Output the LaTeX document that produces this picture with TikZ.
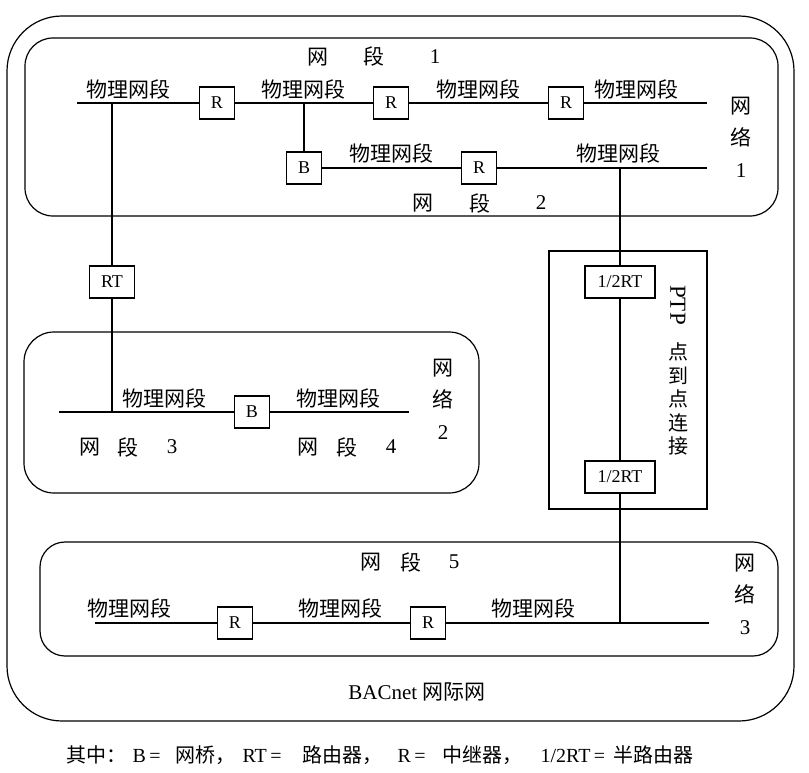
\documentclass[tikz,border=0pt]{standalone}
\usepackage{fontspec}
\setmainfont{Liberation Serif}
\newfontfamily\zh{Noto Sans CJK SC}
\begin{document}
\begin{tikzpicture}[x=1pt,y=-1pt,line width=1.2pt,
  font=\fontsize{21}{25}\selectfont,
  dev/.style={draw,fill=white,inner sep=0pt,minimum height=32pt,minimum width=35pt,font=\fontsize{18}{22}\selectfont},
  lbl/.style={inner sep=0pt},
  lg/.style={inner sep=0pt,anchor=base west,font=\fontsize{20}{24}\selectfont},
  vlbl/.style={inner sep=0pt,align=center,font=\fontsize{21}{32}\selectfont}]
\useasboundingbox (0,0) rectangle (809,773);
% enclosures
\draw[rounded corners=55pt] (7,16) rectangle (794,721);
\draw[rounded corners=28pt] (25,38) rectangle (778,216);
\draw[rounded corners=30pt] (24,332) rectangle (479,493);
\draw[rounded corners=25pt] (40,542) rectangle (778,656);
\draw (549,251) rectangle (707,509);
% coordinates
\coordinate (a1s) at (77,103);
\coordinate (a1e) at (707,103);
\coordinate (t1) at (112,103);
\coordinate (t2) at (304,103);
\coordinate (a2e) at (707,168);
\coordinate (t3) at (620,168);
\coordinate (a3s) at (59,412);
\coordinate (a3e) at (409,412);
\coordinate (t4) at (112,412);
\coordinate (a4s) at (95,623);
\coordinate (a4e) at (709,623);
\coordinate (t5) at (620,623);
% devices
\node[dev] (R1) at (217,103) {R};
\node[dev] (R2) at (391,103) {R};
\node[dev] (R3) at (566,103) {R};
\node[dev] (B1) at (304,168) {B};
\node[dev] (R4) at (479,168) {R};
\node[dev,minimum width=45pt] (RT) at (112,282) {RT};
\node[dev,minimum width=70pt] (H1) at (620,282) {1/2RT};
\node[dev,minimum width=70pt] (H2) at (620,477) {1/2RT};
\node[dev] (B2) at (252,412) {B};
\node[dev] (R5) at (235,623) {R};
\node[dev] (R6) at (428,623) {R};
% connectors
\draw (a1s) -- (R1) -- (R2) -- (R3) -- (a1e);
\draw (t2) -- (B1) -- (R4) -- (a2e);
\draw (t1) -- (RT) -- (t4);
\draw (a3s) -- (B2) -- (a3e);
\draw (t3) -- (H1) -- (H2) -- (t5);
\draw (a4s) -- (R5) -- (R6) -- (a4e);
% physical segment labels
\node[lbl] (p1) at (128,89) {\zh 物理网段};
\node[lbl] (p2) at (303,89) {\zh 物理网段};
\node[lbl] (p3) at (478,89) {\zh 物理网段};
\node[lbl] (p4) at (636,89) {\zh 物理网段};
\node[lbl] (p5) at (391,153) {\zh 物理网段};
\node[lbl] (p6) at (618,153) {\zh 物理网段};
\node[lbl] (p7) at (164,398) {\zh 物理网段};
\node[lbl] (p8) at (338,398) {\zh 物理网段};
\node[lbl] (p9) at (129,608) {\zh 物理网段};
\node[lbl] (p10) at (340,608) {\zh 物理网段};
\node[lbl] (p11) at (533,608) {\zh 物理网段};
% segment labels
\node[lbl] (s1a) at (318,57) {\zh 网};
\node[lbl] (s1b) at (374,57) {\zh 段};
\node[lbl] (s1c) at (435,57) {1};
\node[lbl] (s2a) at (423,203) {\zh 网};
\node[lbl] (s2b) at (480,203) {\zh 段};
\node[lbl] (s2c) at (541,203) {2};
\node[lbl] (s3a) at (90,447) {\zh 网};
\node[lbl] (s3b) at (128,447) {\zh 段};
\node[lbl] (s3c) at (172,447) {3};
\node[lbl] (s4a) at (308,447) {\zh 网};
\node[lbl] (s4b) at (347,447) {\zh 段};
\node[lbl] (s4c) at (391,447) {4};
\node[lbl] (s5a) at (371,562) {\zh 网};
\node[lbl] (s5b) at (411,562) {\zh 段};
\node[lbl] (s5c) at (454,562) {5};
% network labels
\node[vlbl] (n1) at (741,137) {{\zh 网}\\{\zh 络}\\1};
\node[vlbl] (n2) at (443,399) {{\zh 网}\\{\zh 络}\\2};
\node[vlbl] (n3) at (745,594) {{\zh 网}\\{\zh 络}\\3};
% PTP
\node[lbl,rotate=-90,font=\fontsize{23}{26}\selectfont] (ptp) at (678,305) {PTP};
\node[lbl,align=center,font=\fontsize{20}{23.5}\selectfont] (ptpzh) at (678,399) {{\zh 点}\\{\zh 到}\\{\zh 点}\\{\zh 连}\\{\zh 接}};
% titles
\node[lbl] (bac) at (417,692) {BACnet {\zh 网际网}};
% legend
\node[lg] (lg1) at (66,762) {\zh 其中：};
\node[lg] (lg2) at (132,762) {B\,=};
\node[lg] (lg3) at (175,762) {\zh 网桥，};
\node[lg] (lg4) at (242,762) {RT\,=};
\node[lg] (lg5) at (302,762) {\zh 路由器，};
\node[lg] (lg6) at (397,762) {R\,=};
\node[lg] (lg7) at (442,762) {\zh 中继器，};
\node[lg] (lg8) at (540,762) {1/2RT\,=};
\node[lg] (lg9) at (613,762) {\zh 半路由器};
\end{tikzpicture}
\end{document}
